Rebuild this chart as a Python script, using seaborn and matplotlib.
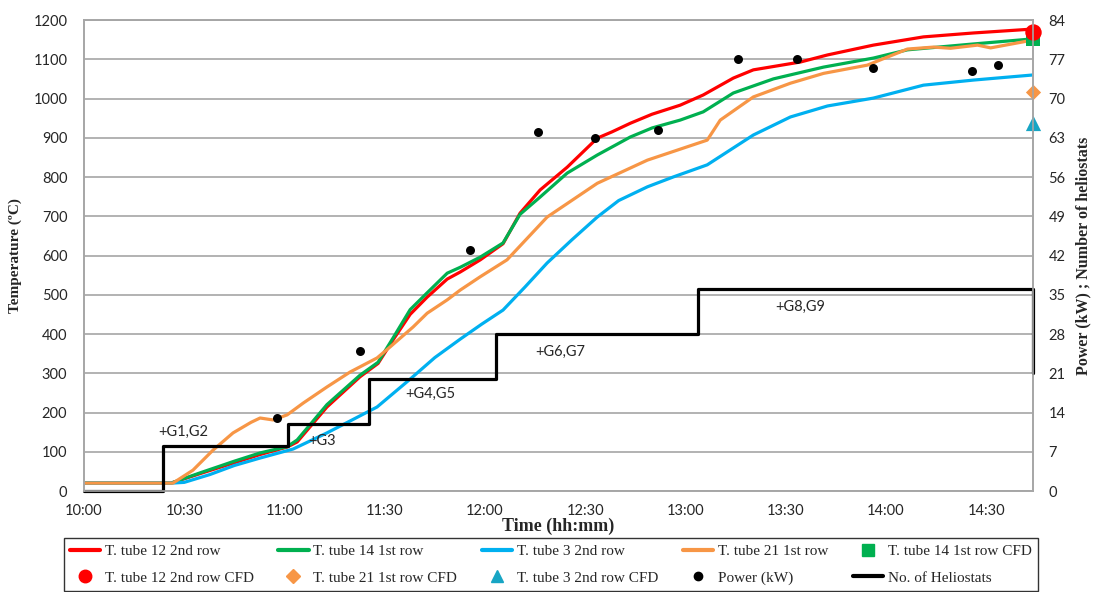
import matplotlib
matplotlib.use("Agg")
import matplotlib.pyplot as plt
import seaborn as sns
from matplotlib.lines import Line2D


# time axis (minutes after 10:00)
tick_minutes = [0, 30, 60, 90, 120, 150, 180, 210, 240, 270]
tick_labels = ["10:00", "10:30", "11:00", "11:30", "12:00",
               "12:30", "13:00", "13:30", "14:00", "14:30"]

# T. tube 12 2nd row
t_red = [0, 26, 35, 45, 52.7, 60.8, 63.8, 72.7, 82.6, 88, 92.5, 97.6, 102.7,
         108.7, 112.6, 118.6, 125.4, 130.5, 136.5, 144.6, 153.6, 158, 163.5,
         170, 178.4, 185.3, 194.3, 200.3, 214.4, 222.5, 236.2, 251.2, 266.2, 284]
temp_red = [20, 20, 45, 72, 93, 112, 125, 214, 291, 325, 385, 450, 494,
            540, 558, 589, 630, 708, 767, 825, 899, 915, 937,
            960, 983, 1009, 1052, 1073, 1093, 1111, 1136, 1157, 1167, 1177]

# T. tube 14 1st row
t_green = [0, 26, 35, 45, 52.7, 60.8, 63.8, 72.7, 82.6, 88, 92.5, 97.6, 102.7,
           108.7, 112.6, 118.6, 125.4, 130.5, 136.5, 144.6, 153.6, 163.5, 170,
           178.4, 185.3, 194.3, 206.3, 221.3, 236.2, 246.4, 266.2, 284]
temp_green = [20, 20, 47, 76, 97, 113, 130, 220, 295, 328, 390, 462, 505,
              555, 570, 596, 632, 705, 749, 810, 856, 902, 925,
              945, 966, 1014, 1050, 1080, 1103, 1124, 1139, 1152]

# T. tube 3 2nd row
t_blue = [0, 26, 30, 37.7, 45, 52.7, 62.6, 72.7, 80, 87.7, 97.6, 105, 112.6,
          119, 125.4, 132, 138.6, 146, 153.6, 160, 168.6, 176.3, 186.5, 193.4,
          200.3, 211.4, 222.5, 236.2, 251.2, 266.2, 284]
temp_blue = [20, 20, 22, 42, 65, 84, 107, 148, 180, 214, 285, 340, 387,
             425, 461, 520, 581, 640, 698, 740, 775, 800, 831, 869,
             907, 953, 981, 1001, 1034, 1047, 1060]

# T. tube 21 1st row
t_orange = [0, 26.6, 32.6, 38.6, 44.6, 50, 52.7, 56.6, 60.8, 65.6, 72.7, 79.6,
            87.7, 91.6, 98.5, 102.7, 108.7, 112.6, 118.6, 126.6, 138.6, 153.6,
            168.6, 186.5, 190.4, 200.3, 211.4, 221.3, 234.4, 246.4, 254.2,
            259.3, 267.4, 271.3, 284]
temp_orange = [20, 20, 53, 104, 148, 175, 186, 181, 194, 224, 265, 303,
               339, 367, 418, 453, 487, 512, 546, 589, 698, 784,
               843, 894, 945, 1004, 1039, 1064, 1085, 1126, 1131,
               1128, 1136, 1129, 1149]

# CFD results at the end of the test
t_cfd = 284
cfd_red = 1169
cfd_green = 1151
cfd_orange = 1016
cfd_blue = 938

# measured power (kW)
t_power = [57.8, 82.6, 115.6, 136, 153, 171.9, 195.8, 213.5, 236.2, 265.6, 273.4]
power_kw = [13, 25, 43, 64, 63, 64.4, 77, 77, 75.4, 74.9, 76]

# number of heliostats (step changes)
t_helio = [0, 23.7, 61, 85.3, 123.4, 183.6, 284]
n_helio = [0, 8, 12, 20, 28, 36, 21]

# heliostat group labels
group_labels = ["+G1,G2", "+G3", "+G4,G5", "+G6,G7", "+G8,G9"]
group_t = [29.6, 71.3, 103.6, 142.5, 214.4]
group_temp = [150, 127, 247, 354, 469]


# colours
RED = "#FF0000"
GREEN = "#00B050"
BLUE = "#00B0F0"
ORANGE = "#F79646"
TEAL = "#17A5C4"
GREY = "#A6A6A6"

sns.set_style("white")
plt.rcParams["font.family"] = ["Lato", "DejaVu Sans"]

fig = plt.figure(figsize=(10.99, 5.92), dpi=100)
ax = fig.add_axes([0.0764, 0.1706, 0.8636, 0.7956])

# temperature lines
lw = 2.3
sns.lineplot(x=t_red, y=temp_red, ax=ax, color=RED, linewidth=lw)
sns.lineplot(x=t_green, y=temp_green, ax=ax, color=GREEN, linewidth=lw)
sns.lineplot(x=t_blue, y=temp_blue, ax=ax, color=BLUE, linewidth=lw)
sns.lineplot(x=t_orange, y=temp_orange, ax=ax, color=ORANGE, linewidth=lw)

# CFD markers
sns.scatterplot(x=[t_cfd], y=[cfd_green], ax=ax, marker="s", s=90,
                color=GREEN, linewidth=0, clip_on=False, zorder=5)
sns.scatterplot(x=[t_cfd], y=[cfd_red], ax=ax, marker="o", s=140,
                color=RED, linewidth=0, clip_on=False, zorder=6)
sns.scatterplot(x=[t_cfd], y=[cfd_orange], ax=ax, marker="D", s=60,
                color=ORANGE, linewidth=0, clip_on=False, zorder=5)
sns.scatterplot(x=[t_cfd], y=[cfd_blue], ax=ax, marker="^", s=120,
                color=TEAL, linewidth=0, clip_on=False, zorder=5)

# group labels
for lab, tx, ty in zip(group_labels, group_t, group_temp):
    ax.text(tx, ty, lab, ha="center", va="center", fontsize=10.5)

ax.set_xlim(0, 284)
ax.set_ylim(0, 1200)
ax.set_xticks(tick_minutes)
ax.set_xticklabels(tick_labels)
ax.set_yticks(range(0, 1201, 100))
ax.grid(axis="y", color=GREY, linewidth=1.2)
ax.grid(axis="x", visible=False)
ax.set_axisbelow(True)
ax.tick_params(axis="x", direction="in", length=5, width=1, color=GREY,
               pad=9, labelsize=10.5)
ax.tick_params(axis="y", length=0, pad=12, labelsize=10.5)
for sp in ax.spines.values():
    sp.set_color(GREY)
    sp.set_linewidth(1.2)

ax.set_xlabel("Time (hh:mm)", fontfamily="Liberation Serif",
              fontweight="bold", fontsize=13, labelpad=0)
ax.set_ylabel("Temperature (ºC)", fontfamily="Liberation Serif",
              fontweight="bold", fontsize=11, labelpad=8)

# right axis: power and heliostats
ax2 = ax.twinx()
ax2.step(t_helio, n_helio, where="post", color="black", linewidth=2.3,
         clip_on=False)
sns.scatterplot(x=t_power, y=power_kw, ax=ax2, color="black", s=42,
                linewidth=0)
ax2.set_ylim(0, 84)
ax2.set_yticks(range(0, 85, 7))
ax2.tick_params(axis="y", length=0, pad=11, labelsize=10.5)
for sp in ax2.spines.values():
    sp.set_color(GREY)
    sp.set_linewidth(1.2)
ax2.set_ylabel("Power (kW) ; Number of heliostats", fontfamily="Liberation Serif",
               fontweight="bold", fontsize=11.5, labelpad=7)

# legend (matplotlib fills column by column)
h_red = Line2D([], [], color=RED, lw=3)
h_green = Line2D([], [], color=GREEN, lw=3)
h_blue = Line2D([], [], color=BLUE, lw=3)
h_orange = Line2D([], [], color=ORANGE, lw=3)
h_green_cfd = Line2D([], [], color=GREEN, marker="s", ls="", ms=8)
h_red_cfd = Line2D([], [], color=RED, marker="o", ls="", ms=9)
h_orange_cfd = Line2D([], [], color=ORANGE, marker="D", ls="", ms=7)
h_blue_cfd = Line2D([], [], color=TEAL, marker="^", ls="", ms=9)
h_power = Line2D([], [], color="black", marker="o", ls="", ms=6)
h_helio = Line2D([], [], color="black", lw=3)

handles = [h_red, h_red_cfd, h_green, h_orange_cfd, h_blue, h_blue_cfd,
           h_orange, h_power, h_green_cfd, h_helio]
labels = ["T. tube 12 2nd row", "T. tube 12 2nd row CFD",
          "T. tube 14 1st row", "T. tube 21 1st row CFD",
          "T. tube 3 2nd row", "T. tube 3 2nd row CFD",
          "T. tube 21 1st row", "Power (kW)",
          "T. tube 14 1st row CFD", "No. of Heliostats"]

leg = fig.legend(handles, labels, ncol=5, loc="upper center",
                 bbox_to_anchor=(0.501, 0.104), frameon=True, fancybox=False,
                 edgecolor="black", handlelength=2.0, handletextpad=0.3,
                 columnspacing=1.6, borderpad=0.4, labelspacing=0.85,
                 prop={"family": "Liberation Serif", "size": 11})
leg.get_frame().set_linewidth(1.0)

plt.savefig("out.png", dpi=100)
